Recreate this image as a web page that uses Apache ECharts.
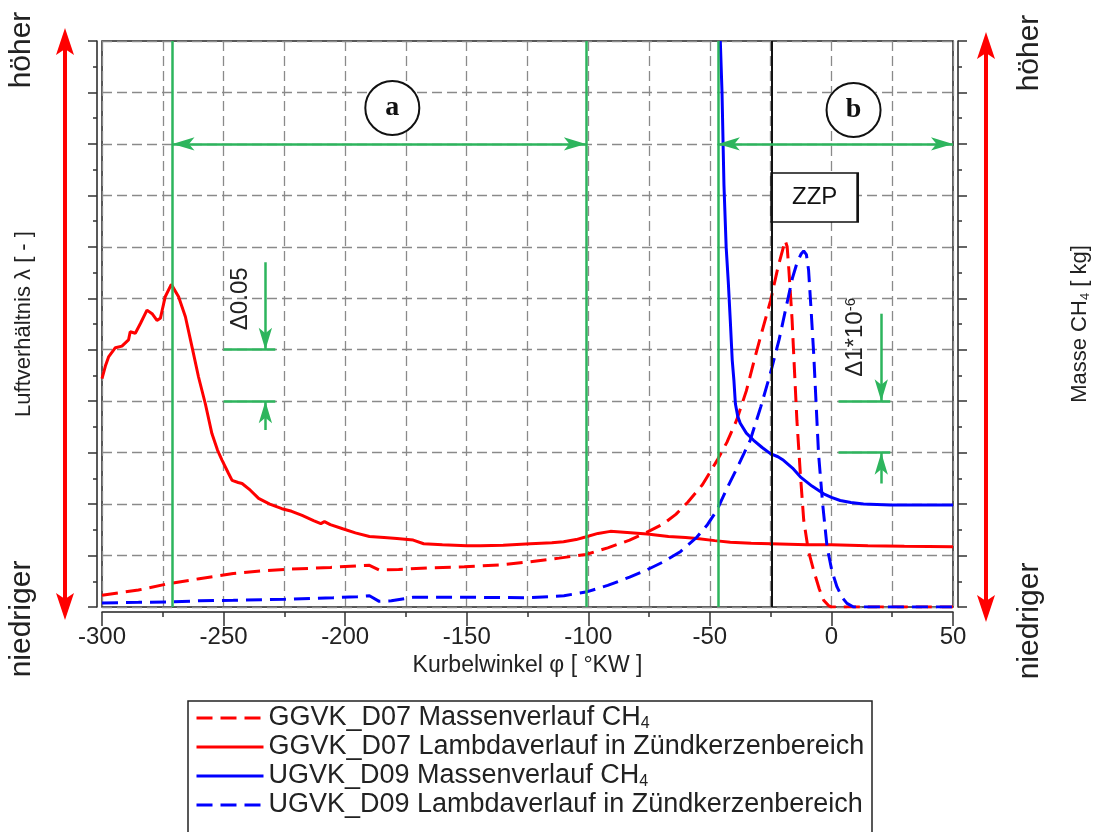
<!DOCTYPE html>
<html lang="de">
<head>
    <meta charset="UTF-8">
    <title>Massen- und Lambdaverlauf</title>
    <script src="https://cdn.jsdelivr.net/npm/echarts@6/dist/echarts.min.js"></script>
    <style>
        body {
            margin: 0;
            background: #fff;
        }
        #main {
            width: 1097px;
            height: 832px;
        }
    </style>
</head>
<body>
<div id="main"></div>

<script>
    // Werte in Rastereinheiten (0 = unten, 11 = oben), x in °KW
    var ggvkMass = [
        [-300, 0.23], [-285, 0.33], [-273, 0.45], [-260, 0.55], [-246, 0.65], [-235, 0.70],
        [-225, 0.73], [-206, 0.77], [-195, 0.80], [-190, 0.81], [-186, 0.72], [-178, 0.73],
        [-165, 0.76], [-151, 0.78], [-136, 0.82], [-124, 0.88], [-112, 0.95], [-101, 1.02],
        [-92, 1.15], [-83, 1.30], [-76, 1.45], [-69, 1.62], [-64, 1.80], [-59, 2.04],
        [-53, 2.38], [-47, 2.85], [-43, 3.2], [-39, 3.63], [-35, 4.2], [-31, 4.93],
        [-28, 5.45], [-25, 5.96], [-22, 6.6], [-20, 6.95], [-19, 7.12], [-18.2, 7.0],
        [-17.5, 6.55], [-16.2, 5.6], [-15.2, 4.6], [-14.2, 3.63], [-12.8, 2.6], [-11.4, 1.69],
        [-9.5, 1.1], [-7.3, 0.71], [-5, 0.35], [-3.2, 0.13], [-1, 0.02], [0, 0], [50, 0]
    ];
    var ggvkLambda = [
        [-300, 4.44], [-298.5, 4.7], [-297.3, 4.86], [-294.5, 5.04], [-291.8, 5.07], [-289.1, 5.19],
        [-288.4, 5.35], [-286.3, 5.32], [-284.2, 5.51], [-281.5, 5.77], [-279.4, 5.70], [-277.4, 5.57],
        [-276, 5.61], [-274, 6.03], [-271.5, 6.27], [-268.5, 6.03], [-265.7, 5.64], [-263, 5.06],
        [-260.3, 4.47], [-257.5, 3.95], [-254.8, 3.37], [-252.5, 3.05], [-250.6, 2.85], [-248, 2.6],
        [-246.5, 2.46], [-244, 2.42], [-242.4, 2.40], [-239, 2.27], [-235.6, 2.11], [-231, 2.0],
        [-226, 1.91], [-222, 1.86], [-217.7, 1.78], [-213, 1.68], [-210, 1.62], [-208.5, 1.66],
        [-206.1, 1.60], [-201, 1.52], [-195.8, 1.44], [-190, 1.37], [-184, 1.35], [-178.7, 1.33],
        [-172, 1.30], [-167.7, 1.23], [-160, 1.21], [-150, 1.19], [-144.4, 1.19], [-135, 1.20],
        [-123.8, 1.23], [-115, 1.25], [-110.2, 1.27], [-105, 1.31], [-101.2, 1.36], [-96, 1.43],
        [-90.9, 1.47], [-84, 1.45], [-75.8, 1.42], [-67, 1.37], [-60, 1.35], [-55.3, 1.33],
        [-48, 1.29], [-41.6, 1.26], [-33, 1.24], [-25, 1.23], [-10, 1.21], [0, 1.21],
        [15, 1.19], [30, 1.18], [50, 1.17]
    ];
    var ugvkMass = [
        [-45.7, 11], [-45.0, 10.0], [-44.2, 8.2], [-43.3, 7.0], [-42.4, 6.3], [-41.6, 5.57],
        [-40.8, 4.8], [-40.1, 4.4], [-39.5, 3.95], [-38.5, 3.7], [-37.5, 3.57], [-35, 3.38],
        [-32, 3.24], [-28.5, 3.1], [-25.1, 2.98], [-22, 2.92], [-19.7, 2.85], [-16, 2.7],
        [-12.8, 2.53], [-8, 2.35], [-3.2, 2.20], [0, 2.13], [3.6, 2.07], [8, 2.03],
        [13.2, 2.0], [24.2, 1.98], [50, 1.98]
    ];
    var ugvkLambda = [
        [-300, 0.08], [-285, 0.09], [-273, 0.10], [-260, 0.12], [-246, 0.13], [-225, 0.15],
        [-205, 0.18], [-195, 0.20], [-190, 0.22], [-186, 0.11], [-181, 0.12], [-172, 0.19],
        [-151, 0.19], [-124, 0.18], [-110, 0.22], [-101, 0.29], [-92, 0.42], [-83, 0.58],
        [-76, 0.72], [-69, 0.88], [-62, 1.08], [-55.3, 1.36], [-51, 1.6], [-47.1, 1.88],
        [-43, 2.3], [-38, 2.78], [-33.4, 3.24], [-29, 3.9], [-25.1, 4.54], [-21.5, 5.2],
        [-18.3, 5.90], [-16, 6.4], [-14.2, 6.68], [-12.5, 6.86], [-11.4, 6.92], [-10.3, 6.85],
        [-9.4, 6.55], [-8.4, 5.8], [-7.3, 4.93], [-6.3, 3.95], [-5.3, 2.98], [-3.6, 2.0],
        [-1.8, 1.17], [0.2, 0.7], [2.3, 0.39], [4.5, 0.18], [6.4, 0.07], [9.1, 0], [50, 0]
    ];

    var seriesNames = [
        'GGVK_D07 Massenverlauf CH4',
        'GGVK_D07 Lambdaverlauf in Zündkerzenbereich',
        'UGVK_D09 Massenverlauf CH4',
        'UGVK_D09 Lambdaverlauf in Zündkerzenbereich'
    ];
    var xTicks = [-300, 50, 50];          // min, max, Schrittweite
    var markerLines = [-271, -101, -46.7]; // grüne Linien
    var zzpAngle = -24.6;                  // Zündzeitpunkt

    var FONT = "'Liberation Sans', Arial, sans-serif";
    var RED = '#ff0000';
    var BLUE = '#0000ff';
    var GREEN = '#2db55d';
    var DASH = [16, 8];

    var gridDash = {color: '#8a8a8a', type: [10, 5], width: 1.3};

    function lineSeries(name, data, color, dashed) {
        return {
            name: name,
            type: 'line',
            data: data,
            symbol: 'none',
            smooth: false,
            z: 3,
            lineStyle: {color: color, width: 3, type: dashed ? DASH : 'solid'},
            itemStyle: {color: color}
        };
    }

    function seg(a, b, sym) {
        return [
            {coord: a, symbol: sym[0]},
            {coord: b, symbol: sym[1]}
        ];
    }

    var chart = echarts.init(document.getElementById('main'));

    chart.setOption({
        animation: false,
        grid: {
            left: 102, right: 144, top: 41, bottom: 225,
            show: true, borderColor: '#222', borderWidth: 1.5,
            outerBoundsMode: 'none'
        },
        legend: {
            data: seriesNames,
            orient: 'vertical',
            left: 195,
            top: 704,
            padding: 0,
            itemGap: 1,
            itemWidth: 67,
            itemHeight: 14,
            selectedMode: false,
            itemStyle: {opacity: 0},
            lineStyle: {width: 3},
            formatter: function (name) {
                return name.replace('CH4', 'CH{sub|4}');
            },
            textStyle: {
                fontFamily: FONT, fontSize: 27, color: '#222', lineHeight: 28,
                rich: {sub: {fontFamily: FONT, fontSize: 16, color: '#222', verticalAlign: 'bottom', lineHeight: 28}}
            }
        },
        xAxis: {
            type: 'value',
            min: xTicks[0], max: xTicks[1], interval: xTicks[2],
            offset: 5,
            name: 'Kurbelwinkel φ [ °KW ]',
            nameLocation: 'middle',
            nameGap: 40,
            nameTextStyle: {fontFamily: FONT, fontSize: 23, color: '#222'},
            axisLine: {show: true, onZero: false, lineStyle: {color: '#222', width: 1.5}},
            axisTick: {show: true, length: 14, lineStyle: {color: '#333', width: 1.5}},
            minorTick: {show: true, splitNumber: 2, length: 5, lineStyle: {color: '#333', width: 1.5}},
            axisLabel: {fontFamily: FONT, fontSize: 24, color: '#222', margin: 13},
            splitLine: {show: true, lineStyle: gridDash},
            minorSplitLine: {show: true, lineStyle: gridDash}
        },
        yAxis: [{
            type: 'value',
            min: 0, max: 11, interval: 1,
            position: 'left',
            offset: 5,
            name: 'Luftverhältnis λ [ - ]',
            nameLocation: 'middle',
            nameGap: 62,
            nameRotate: 90,
            nameTextStyle: {fontFamily: FONT, fontSize: 22, color: '#222'},
            axisLine: {show: true, onZero: false, lineStyle: {color: '#222', width: 1.5}},
            axisTick: {show: true, length: 9, lineStyle: {color: '#333', width: 1.5}},
            minorTick: {show: true, splitNumber: 2, length: 4, lineStyle: {color: '#333', width: 1.5}},
            axisLabel: {show: false},
            splitLine: {show: true, lineStyle: gridDash}
        }, {
            type: 'value',
            min: 0, max: 11, interval: 1,
            position: 'right',
            offset: 5,
            name: 'Masse CH{sub|4} [ kg]',
            nameLocation: 'middle',
            nameGap: 110,
            nameRotate: 90,
            nameTextStyle: {
                fontFamily: FONT, fontSize: 22, color: '#222',
                rich: {sub: {fontFamily: FONT, fontSize: 13, color: '#222', verticalAlign: 'bottom', lineHeight: 24}}
            },
            axisLine: {show: true, onZero: false, lineStyle: {color: '#222', width: 1.5}},
            axisTick: {show: true, length: 9, lineStyle: {color: '#333', width: 1.5}},
            minorTick: {show: true, splitNumber: 2, length: 4, lineStyle: {color: '#333', width: 1.5}},
            axisLabel: {show: false},
            splitLine: {show: false}
        }],
        series: [
            lineSeries(seriesNames[0], ggvkMass, RED, true),
            lineSeries(seriesNames[1], ggvkLambda, RED, false),
            lineSeries(seriesNames[2], ugvkMass, BLUE, false),
            lineSeries(seriesNames[3], ugvkLambda, BLUE, true),
            {
                name: 'annotations',
                type: 'line',
                data: [],
                silent: true,
                z: 4,
                markLine: {
                    silent: true,
                    animation: false,
                    symbol: 'none',
                    symbolSize: [10, 22],
                    label: {show: false},
                    emphasis: {disabled: true},
                    lineStyle: {color: GREEN, width: 2.5, type: 'solid'},
                    data: [
                        {xAxis: markerLines[0]},
                        {xAxis: markerLines[1]},
                        {xAxis: markerLines[2]},
                        {xAxis: zzpAngle, lineStyle: {color: '#111', width: 2, type: 'solid'}},
                        seg([markerLines[0], 9], [markerLines[1], 9], ['arrow', 'arrow']),
                        seg([markerLines[2], 9], [50, 9], ['arrow', 'arrow']),
                        // Δ0.05
                        seg([-232.8, 6.7], [-232.8, 5], ['none', 'arrow']),
                        seg([-232.8, 3.44], [-232.8, 4], ['none', 'arrow']),
                        seg([-250, 5], [-228.7, 5], ['none', 'none']),
                        seg([-250, 4], [-228.7, 4], ['none', 'none']),
                        // Δ1*10^-6
                        seg([20.5, 5.7], [20.5, 4], ['none', 'arrow']),
                        seg([20.5, 2.4], [20.5, 3], ['none', 'arrow']),
                        seg([2.9, 4], [24.2, 4], ['none', 'none']),
                        seg([2.9, 3], [24.2, 3], ['none', 'none'])
                    ]
                },
                markPoint: {
                    silent: true,
                    animation: false,
                    data: [
                        {coord: [-180.6, 9.7], value: 'a'},
                        {coord: [9.1, 9.66], value: 'b'},
                        {
                            coord: [zzpAngle + 17.7, 7.96], value: 'ZZP',
                            symbol: 'rect', symbolSize: [86, 49],
                            label: {fontFamily: FONT, fontWeight: 'normal', fontSize: 24, color: '#111'}
                        }
                    ],
                    symbol: 'circle',
                    symbolSize: 54,
                    itemStyle: {color: '#fff', borderColor: '#111', borderWidth: 2},
                    label: {
                        show: true, position: 'inside', formatter: '{c}',
                        fontFamily: "'Liberation Serif', 'Times New Roman', serif",
                        fontWeight: 'bold', fontSize: 28, color: '#111'
                    }
                }
            }
        ]
    });

    // Beschriftungen und Pfeile ausserhalb bzw. gedreht
    var p1 = chart.convertToPixel({gridIndex: 0}, [-243, 5.99]);
    var p2 = chart.convertToPixel({gridIndex: 0}, [9.8, 5.24]);

    function sideText(text, x, y) {
        return {
            type: 'text', x: x, y: y, rotation: Math.PI / 2,
            style: {text: text, fontFamily: FONT, fontSize: 30, fill: '#222', align: 'center', verticalAlign: 'middle'}
        };
    }

    function redArrow(x, top, bottom) {
        return {
            type: 'group',
            children: [
                {type: 'line', shape: {x1: x, y1: top + 15, x2: x, y2: bottom - 15}, style: {stroke: RED, lineWidth: 4}},
                {type: 'polygon', shape: {points: [[x, top], [x + 9, top + 27], [x, top + 21], [x - 9, top + 27]]}, style: {fill: RED}},
                {type: 'polygon', shape: {points: [[x, bottom], [x + 9, bottom - 27], [x, bottom - 21], [x - 9, bottom - 27]]}, style: {fill: RED}}
            ]
        };
    }

    chart.setOption({
        graphic: [
            redArrow(65, 28, 620),
            redArrow(986, 32, 622),
            sideText('höher', 22, 50),
            sideText('niedriger', 22, 619),
            sideText('höher', 1030, 53),
            sideText('niedriger', 1030, 621),
            // Rahmen der Legende (läuft unten aus dem Bild)
            {
                type: 'rect', shape: {x: 188, y: 701, width: 684, height: 160},
                style: {fill: 'none', stroke: '#222', lineWidth: 1.5}
            },
            {
                type: 'text', x: p1[0], y: p1[1], rotation: Math.PI / 2,
                style: {text: 'Δ0.05', fontFamily: FONT, fontSize: 24, fill: '#222', align: 'center', verticalAlign: 'middle'}
            },
            {
                type: 'text', x: p2[0], y: p2[1], rotation: Math.PI / 2,
                style: {
                    text: 'Δ1*10{sup|-6}', fontFamily: FONT, fontSize: 24, fill: '#222',
                    align: 'center', verticalAlign: 'middle',
                    rich: {sup: {fontFamily: FONT, fontSize: 15, fill: '#222', verticalAlign: 'top', lineHeight: 24}}
                }
            }
        ]
    });
</script>
</body>
</html>
